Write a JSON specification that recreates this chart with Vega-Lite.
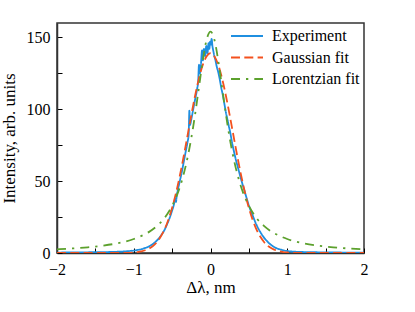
{
  "$schema": "https://vega.github.io/schema/vega-lite/v6.json",
  "width": 307,
  "height": 230,
  "autosize": "none",
  "padding": {"left": 57, "top": 23, "right": 51, "bottom": 59},
  "background": "white",
  "config": {
    "font": "Liberation Serif, Times New Roman, serif",
    "view": {"stroke": "#333333", "strokeWidth": 1.5},
    "axis": {
      "grid": false,
      "domainColor": "#333333",
      "domainWidth": 1.5,
      "tickColor": "black",
      "tickWidth": 1,
      "tickSize": -5,
      "labelFont": "Liberation Serif, Times New Roman, serif",
      "labelFontSize": 16,
      "labelColor": "black",
      "labelFlush": false,
      "labelOverlap": false,
      "titleFont": "Liberation Serif, Times New Roman, serif",
      "titleFontSize": 17,
      "titleFontWeight": "normal",
      "titleColor": "black"
    },
    "legend": {
      "orient": "none",
      "legendX": 173,
      "legendY": 3,
      "padding": 0,
      "symbolType": "stroke",
      "symbolSize": 1024,
      "symbolStrokeWidth": 1.8,
      "clipHeight": 20,
      "rowPadding": 1.5,
      "labelFont": "Liberation Serif, Times New Roman, serif",
      "labelFontSize": 16,
      "labelColor": "black",
      "labelOffset": 8,
      "title": null
    }
  },
  "data": {
    "values": [
      {"series": "Experiment", "x": -2.0, "y": 0.3},
      {"series": "Experiment", "x": -1.8, "y": 0.4},
      {"series": "Experiment", "x": -1.6, "y": 0.5},
      {"series": "Experiment", "x": -1.4, "y": 0.6},
      {"series": "Experiment", "x": -1.2, "y": 0.9},
      {"series": "Experiment", "x": -1.1, "y": 1.2},
      {"series": "Experiment", "x": -1.0, "y": 1.7},
      {"series": "Experiment", "x": -0.95, "y": 2.1},
      {"series": "Experiment", "x": -0.9, "y": 2.7},
      {"series": "Experiment", "x": -0.85, "y": 3.5},
      {"series": "Experiment", "x": -0.8, "y": 4.6},
      {"series": "Experiment", "x": -0.75, "y": 6.3},
      {"series": "Experiment", "x": -0.7, "y": 8.6},
      {"series": "Experiment", "x": -0.65, "y": 11.8},
      {"series": "Experiment", "x": -0.6, "y": 16},
      {"series": "Experiment", "x": -0.575, "y": 18.8},
      {"series": "Experiment", "x": -0.55, "y": 22},
      {"series": "Experiment", "x": -0.525, "y": 25.5},
      {"series": "Experiment", "x": -0.5, "y": 29.5},
      {"series": "Experiment", "x": -0.475, "y": 34},
      {"series": "Experiment", "x": -0.46, "y": 38},
      {"series": "Experiment", "x": -0.45, "y": 35.5},
      {"series": "Experiment", "x": -0.44, "y": 40},
      {"series": "Experiment", "x": -0.425, "y": 44},
      {"series": "Experiment", "x": -0.4, "y": 50},
      {"series": "Experiment", "x": -0.375, "y": 56},
      {"series": "Experiment", "x": -0.35, "y": 63},
      {"series": "Experiment", "x": -0.325, "y": 70},
      {"series": "Experiment", "x": -0.3, "y": 77},
      {"series": "Experiment", "x": -0.285, "y": 82},
      {"series": "Experiment", "x": -0.275, "y": 99},
      {"series": "Experiment", "x": -0.268, "y": 89},
      {"series": "Experiment", "x": -0.25, "y": 93},
      {"series": "Experiment", "x": -0.225, "y": 100},
      {"series": "Experiment", "x": -0.2, "y": 107},
      {"series": "Experiment", "x": -0.175, "y": 114},
      {"series": "Experiment", "x": -0.16, "y": 120},
      {"series": "Experiment", "x": -0.15, "y": 131},
      {"series": "Experiment", "x": -0.14, "y": 125},
      {"series": "Experiment", "x": -0.125, "y": 131},
      {"series": "Experiment", "x": -0.11, "y": 141},
      {"series": "Experiment", "x": -0.1, "y": 134},
      {"series": "Experiment", "x": -0.085, "y": 142},
      {"series": "Experiment", "x": -0.07, "y": 137},
      {"series": "Experiment", "x": -0.055, "y": 144},
      {"series": "Experiment", "x": -0.04, "y": 139},
      {"series": "Experiment", "x": -0.025, "y": 146},
      {"series": "Experiment", "x": -0.015, "y": 142},
      {"series": "Experiment", "x": -0.005, "y": 147},
      {"series": "Experiment", "x": 0.005, "y": 145},
      {"series": "Experiment", "x": 0.015, "y": 149},
      {"series": "Experiment", "x": 0.025, "y": 144},
      {"series": "Experiment", "x": 0.035, "y": 141},
      {"series": "Experiment", "x": 0.05, "y": 137},
      {"series": "Experiment", "x": 0.065, "y": 134},
      {"series": "Experiment", "x": 0.08, "y": 130},
      {"series": "Experiment", "x": 0.1, "y": 126},
      {"series": "Experiment", "x": 0.12, "y": 121},
      {"series": "Experiment", "x": 0.14, "y": 115},
      {"series": "Experiment", "x": 0.16, "y": 110},
      {"series": "Experiment", "x": 0.18, "y": 104},
      {"series": "Experiment", "x": 0.2, "y": 98},
      {"series": "Experiment", "x": 0.22, "y": 93},
      {"series": "Experiment", "x": 0.24, "y": 88},
      {"series": "Experiment", "x": 0.26, "y": 83},
      {"series": "Experiment", "x": 0.28, "y": 77},
      {"series": "Experiment", "x": 0.3, "y": 72},
      {"series": "Experiment", "x": 0.33, "y": 65},
      {"series": "Experiment", "x": 0.36, "y": 59},
      {"series": "Experiment", "x": 0.4, "y": 51},
      {"series": "Experiment", "x": 0.45, "y": 42},
      {"series": "Experiment", "x": 0.5, "y": 33},
      {"series": "Experiment", "x": 0.55, "y": 26},
      {"series": "Experiment", "x": 0.6, "y": 19.5},
      {"series": "Experiment", "x": 0.65, "y": 14.5},
      {"series": "Experiment", "x": 0.7, "y": 10.5},
      {"series": "Experiment", "x": 0.75, "y": 7.5},
      {"series": "Experiment", "x": 0.8, "y": 5.2},
      {"series": "Experiment", "x": 0.85, "y": 3.6},
      {"series": "Experiment", "x": 0.9, "y": 2.6},
      {"series": "Experiment", "x": 0.95, "y": 1.9},
      {"series": "Experiment", "x": 1.0, "y": 1.4},
      {"series": "Experiment", "x": 1.1, "y": 0.9},
      {"series": "Experiment", "x": 1.2, "y": 0.7},
      {"series": "Experiment", "x": 1.4, "y": 0.5},
      {"series": "Experiment", "x": 1.6, "y": 0.4},
      {"series": "Experiment", "x": 1.8, "y": 0.3},
      {"series": "Experiment", "x": 2.0, "y": 0.3},

      {"series": "Gaussian fit", "x": -2.0, "y": 0},
      {"series": "Gaussian fit", "x": -1.4, "y": 0},
      {"series": "Gaussian fit", "x": -1.2, "y": 0.03},
      {"series": "Gaussian fit", "x": -1.1, "y": 0.1},
      {"series": "Gaussian fit", "x": -1.0, "y": 0.36},
      {"series": "Gaussian fit", "x": -0.95, "y": 0.65},
      {"series": "Gaussian fit", "x": -0.9, "y": 1.13},
      {"series": "Gaussian fit", "x": -0.85, "y": 1.9},
      {"series": "Gaussian fit", "x": -0.8, "y": 3.1},
      {"series": "Gaussian fit", "x": -0.75, "y": 4.9},
      {"series": "Gaussian fit", "x": -0.7, "y": 7.5},
      {"series": "Gaussian fit", "x": -0.65, "y": 11.3},
      {"series": "Gaussian fit", "x": -0.6, "y": 16.3},
      {"series": "Gaussian fit", "x": -0.55, "y": 23.0},
      {"series": "Gaussian fit", "x": -0.5, "y": 31.4},
      {"series": "Gaussian fit", "x": -0.45, "y": 41.7},
      {"series": "Gaussian fit", "x": -0.4, "y": 53.7},
      {"series": "Gaussian fit", "x": -0.35, "y": 67.1},
      {"series": "Gaussian fit", "x": -0.3, "y": 81.4},
      {"series": "Gaussian fit", "x": -0.25, "y": 95.9},
      {"series": "Gaussian fit", "x": -0.2, "y": 109.6},
      {"series": "Gaussian fit", "x": -0.15, "y": 121.6},
      {"series": "Gaussian fit", "x": -0.1, "y": 131.0},
      {"series": "Gaussian fit", "x": -0.05, "y": 136.9},
      {"series": "Gaussian fit", "x": 0.0, "y": 139},
      {"series": "Gaussian fit", "x": 0.05, "y": 136.9},
      {"series": "Gaussian fit", "x": 0.1, "y": 131.0},
      {"series": "Gaussian fit", "x": 0.15, "y": 121.6},
      {"series": "Gaussian fit", "x": 0.2, "y": 109.6},
      {"series": "Gaussian fit", "x": 0.25, "y": 95.9},
      {"series": "Gaussian fit", "x": 0.3, "y": 81.4},
      {"series": "Gaussian fit", "x": 0.35, "y": 67.1},
      {"series": "Gaussian fit", "x": 0.4, "y": 53.7},
      {"series": "Gaussian fit", "x": 0.45, "y": 41.7},
      {"series": "Gaussian fit", "x": 0.5, "y": 31.4},
      {"series": "Gaussian fit", "x": 0.55, "y": 23.0},
      {"series": "Gaussian fit", "x": 0.6, "y": 16.3},
      {"series": "Gaussian fit", "x": 0.65, "y": 11.3},
      {"series": "Gaussian fit", "x": 0.7, "y": 7.5},
      {"series": "Gaussian fit", "x": 0.75, "y": 4.9},
      {"series": "Gaussian fit", "x": 0.8, "y": 3.1},
      {"series": "Gaussian fit", "x": 0.85, "y": 1.9},
      {"series": "Gaussian fit", "x": 0.9, "y": 1.13},
      {"series": "Gaussian fit", "x": 0.95, "y": 0.65},
      {"series": "Gaussian fit", "x": 1.0, "y": 0.36},
      {"series": "Gaussian fit", "x": 1.1, "y": 0.1},
      {"series": "Gaussian fit", "x": 1.2, "y": 0.03},
      {"series": "Gaussian fit", "x": 1.4, "y": 0},
      {"series": "Gaussian fit", "x": 2.0, "y": 0},

      {"series": "Lorentzian fit", "x": -2.0, "y": 2.56},
      {"series": "Lorentzian fit", "x": -1.8, "y": 3.15},
      {"series": "Lorentzian fit", "x": -1.6, "y": 3.96},
      {"series": "Lorentzian fit", "x": -1.4, "y": 5.13},
      {"series": "Lorentzian fit", "x": -1.2, "y": 6.9},
      {"series": "Lorentzian fit", "x": -1.0, "y": 9.75},
      {"series": "Lorentzian fit", "x": -0.9, "y": 11.9},
      {"series": "Lorentzian fit", "x": -0.8, "y": 14.7},
      {"series": "Lorentzian fit", "x": -0.7, "y": 18.7},
      {"series": "Lorentzian fit", "x": -0.6, "y": 24.3},
      {"series": "Lorentzian fit", "x": -0.5, "y": 32.8},
      {"series": "Lorentzian fit", "x": -0.45, "y": 38.5},
      {"series": "Lorentzian fit", "x": -0.4, "y": 45.7},
      {"series": "Lorentzian fit", "x": -0.35, "y": 54.8},
      {"series": "Lorentzian fit", "x": -0.3, "y": 66.1},
      {"series": "Lorentzian fit", "x": -0.25, "y": 80.0},
      {"series": "Lorentzian fit", "x": -0.2, "y": 96.7},
      {"series": "Lorentzian fit", "x": -0.15, "y": 115.5},
      {"series": "Lorentzian fit", "x": -0.1, "y": 134.1},
      {"series": "Lorentzian fit", "x": -0.05, "y": 148.5},
      {"series": "Lorentzian fit", "x": 0.0, "y": 154},
      {"series": "Lorentzian fit", "x": 0.05, "y": 148.5},
      {"series": "Lorentzian fit", "x": 0.1, "y": 134.1},
      {"series": "Lorentzian fit", "x": 0.15, "y": 115.5},
      {"series": "Lorentzian fit", "x": 0.2, "y": 96.7},
      {"series": "Lorentzian fit", "x": 0.25, "y": 80.0},
      {"series": "Lorentzian fit", "x": 0.3, "y": 66.1},
      {"series": "Lorentzian fit", "x": 0.35, "y": 54.8},
      {"series": "Lorentzian fit", "x": 0.4, "y": 45.7},
      {"series": "Lorentzian fit", "x": 0.45, "y": 38.5},
      {"series": "Lorentzian fit", "x": 0.5, "y": 32.8},
      {"series": "Lorentzian fit", "x": 0.6, "y": 24.3},
      {"series": "Lorentzian fit", "x": 0.7, "y": 18.7},
      {"series": "Lorentzian fit", "x": 0.8, "y": 14.7},
      {"series": "Lorentzian fit", "x": 0.9, "y": 11.9},
      {"series": "Lorentzian fit", "x": 1.0, "y": 9.75},
      {"series": "Lorentzian fit", "x": 1.2, "y": 6.9},
      {"series": "Lorentzian fit", "x": 1.4, "y": 5.13},
      {"series": "Lorentzian fit", "x": 1.6, "y": 3.96},
      {"series": "Lorentzian fit", "x": 1.8, "y": 3.15},
      {"series": "Lorentzian fit", "x": 2.0, "y": 2.56}
    ]
  },
  "mark": {"type": "line", "strokeWidth": 1.8, "clip": true, "interpolate": "monotone"},
  "encoding": {
    "x": {
      "field": "x",
      "type": "quantitative",
      "scale": {"domain": [-2, 2], "nice": false},
      "axis": {
        "values": [-2, -1.5, -1, -0.5, 0, 0.5, 1, 1.5, 2],
        "labelExpr": "datum.value % 1 == 0 ? format(datum.value, 'd') : ''",
        "labelPadding": 13,
        "title": "Δλ, nm",
        "titleBaseline": "alphabetic",
        "titleY": 39
      }
    },
    "y": {
      "field": "y",
      "type": "quantitative",
      "scale": {"domain": [0, 160], "nice": false},
      "axis": {
        "values": [0, 25, 50, 75, 100, 125, 150],
        "labelExpr": "datum.value % 50 == 0 ? format(datum.value, 'd') : ''",
        "labelPadding": 12,
        "title": "Intensity, arb. units",
        "titlePadding": 8
      }
    },
    "color": {
      "field": "series",
      "type": "nominal",
      "scale": {
        "domain": ["Experiment", "Gaussian fit", "Lorentzian fit"],
        "range": ["#1f8fe0", "#f4511e", "#5ca12d"]
      },
      "legend": {"title": null}
    },
    "strokeDash": {
      "field": "series",
      "type": "nominal",
      "scale": {
        "domain": ["Experiment", "Gaussian fit", "Lorentzian fit"],
        "range": [[1, 0], [9, 4.3], [9, 6, 2.3, 6]]
      },
      "legend": {"title": null}
    }
  }
}
